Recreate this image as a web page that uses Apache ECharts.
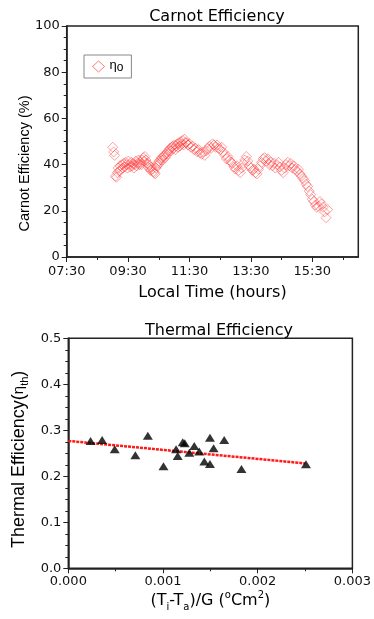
<!DOCTYPE html>
<html>
<head>
<meta charset="utf-8">
<script src="https://cdn.jsdelivr.net/npm/echarts@6/dist/echarts.min.js"></script>
<style>
html,body{margin:0;padding:0;background:#fff;}
#c{width:374px;height:619px;}
</style>
</head>
<body>
<div id="c"></div>
<script>
// ---- Carnot efficiency (top chart) ----
const timeHours = [
 9.00,9.03,9.06,9.09,9.12,9.15,9.18,9.21,9.24,9.27,9.30,9.33,9.36,9.39,9.42,9.45,9.48,9.51,9.54,9.57,
 9.60,9.63,9.66,9.69,9.72,9.75,9.78,9.81,9.84,9.87,9.90,9.93,9.96,9.99,10.02,10.05,10.08,10.11,10.14,10.17,
 10.20,10.23,10.26,10.29,10.32,10.35,10.38,10.41,10.44,10.47,10.50,10.53,10.56,10.59,10.62,10.65,10.68,10.71,10.74,10.77,
 10.80,10.83,10.86,10.89,10.92,10.95,10.98,11.01,11.04,11.07,11.10,11.13,11.16,11.19,11.22,11.25,11.28,11.31,11.34,11.37,
 11.40,11.45,11.50,11.55,11.60,11.65,11.70,11.75,11.80,11.85,11.90,11.95,12.00,12.05,12.10,12.15,12.20,12.25,12.30,12.35,
 12.40,12.45,12.50,12.55,12.60,12.65,12.70,12.75,12.80,12.85,12.90,12.95,13.00,13.05,13.10,13.15,13.20,13.25,13.30,13.35,
 13.40,13.45,13.50,13.55,13.60,13.65,13.70,13.75,13.80,13.85,13.90,13.95,14.00,14.05,14.10,14.15,14.20,14.25,14.30,14.35,
 14.40,14.45,14.50,14.55,14.60,14.65,14.70,14.75,14.80,14.85,14.90,14.95,15.00,15.05,15.10,15.15,15.20,15.25,15.30,15.35,
 15.40,15.45,15.50,15.55,15.60,15.65,15.70,15.75,15.80,15.85,15.90,15.95,16.00
];
const carnotEff = [
 47.5,45.5,44.0,35.0,34.5,36.5,38.5,37.0,39.5,38.0,40.0,38.5,40.5,39.0,41.0,40.0,38.5,41.5,40.0,39.0,
 41.0,39.5,40.5,38.5,40.0,41.5,39.5,40.5,42.0,40.0,41.0,40.0,42.0,43.0,41.5,43.5,42.0,40.5,39.0,40.0,
 38.5,37.5,39.0,38.0,37.0,36.5,36.0,38.5,39.5,40.5,41.5,40.5,42.0,43.0,42.0,43.5,44.0,43.0,44.5,45.5,
 44.5,46.0,47.0,46.0,47.5,48.0,47.0,48.5,46.5,48.0,49.0,47.5,49.5,48.0,50.0,49.0,50.5,48.5,51.0,49.5,
 49.5,48.5,49.0,47.5,48.0,46.5,47.0,45.5,46.5,45.0,44.5,45.5,44.0,46.0,47.0,48.0,47.0,49.0,48.5,47.5,
 48.5,47.0,46.5,47.5,45.5,44.0,42.5,43.5,42.0,41.0,40.5,39.0,38.0,39.5,37.5,36.5,38.5,40.5,42.0,43.5,
 41.5,39.5,38.5,37.5,38.0,36.5,36.0,38.0,39.5,41.0,42.5,43.0,41.5,42.5,40.0,41.0,39.5,40.5,38.5,40.0,
 41.0,39.0,37.5,36.5,38.5,40.0,41.0,39.5,40.5,38.5,39.5,38.0,37.0,38.0,36.0,35.0,34.0,33.0,31.5,30.5,
 28.5,27.0,25.0,24.0,22.5,21.5,22.0,24.0,23.0,21.5,19.5,17.0,20.5
];
const timeMajorTicks = [7.5, 9.5, 11.5, 13.5, 15.5];
const timeMinorTicks = [8.5, 10.5, 12.5, 14.5, 16.5];

// ---- Thermal efficiency (bottom chart) ----
const thermX = [0.000235,0.000357,0.00049,0.000708,0.00084,0.001005,0.001138,0.001155,0.001208,0.00123,
                0.001278,0.00133,0.001383,0.001436,0.001496,0.001496,0.001534,0.001646,0.001828,0.00251];
const thermY = [0.277,0.279,0.259,0.246,0.288,0.222,0.259,0.244,0.274,0.272,
                0.251,0.266,0.254,0.232,0.284,0.227,0.261,0.279,0.216,0.226];
const fitX = [0, 0.0025];
const fitY = [0.277, 0.228];

const FONT = 'DejaVu Sans';
const FONT2 = 'Liberation Sans';
const AX = '#222';

function pad(n){ return (n < 10 ? '0' : '') + n; }
function hhmm(v){ const h = Math.floor(v + 1e-9); const m = Math.round((v - h) * 60); return pad(h) + ':' + pad(m); }

const chart = echarts.init(document.getElementById('c'), null, {renderer: 'canvas'});
chart.setOption({
  backgroundColor: '#fff',
  animation: false,
  title: [
    {text: 'Carnot Efficiency', left: 217, top: 9, textAlign: 'center', padding: 0,
     textStyle: {fontFamily: FONT, fontSize: 16, fontWeight: 'normal', color: '#000'}},
    {text: 'Thermal Efficiency', left: 219, top: 323, textAlign: 'center', padding: 0,
     textStyle: {fontFamily: FONT, fontSize: 16, fontWeight: 'normal', color: '#000'}}
  ],
  legend: {
    left: 84, top: 55, padding: [4, 8, 4, 8], orient: 'vertical',
    borderColor: '#888', borderWidth: 1, backgroundColor: '#fff',
    itemWidth: 12, itemHeight: 11,
    data: [{name: 'eta', icon: 'diamond'}],
    itemStyle: {color: 'transparent', borderColor: 'rgba(255,50,50,0.8)', borderWidth: 1},
    formatter: function(){ return '{a|η}{b|o}'; },
    textStyle: {
      rich: {
        a: {fontFamily: FONT2, fontSize: 13, color: '#000', lineHeight: 15, verticalAlign: 'top'},
        b: {fontFamily: FONT2, fontSize: 12, color: '#000', lineHeight: 10, verticalAlign: 'bottom'}
      }
    }
  },
  grid: [
    {left: 66.7, top: 26, width: 291.6, height: 231, show: true, borderColor: AX, borderWidth: 1.5, backgroundColor: 'transparent'},
    {left: 68.3, top: 338.3, width: 285.7, height: 230, show: true, borderColor: AX, borderWidth: 1.5, backgroundColor: 'transparent'}
  ],
  xAxis: [
    {gridIndex: 0, type: 'value', min: 7.5, max: 17,
     axisLine: {show: true, lineStyle: {color: AX, width: 1.5}},
     axisTick: {show: true, length: 3, customValues: timeMinorTicks, lineStyle: {color: AX}},
     axisLabel: {show: false},
     splitLine: {show: false},
     name: 'Local Time (hours)', nameLocation: 'middle', nameGap: 28, nameMoveOverlap: false,
     nameTextStyle: {fontFamily: FONT, fontSize: 16, color: '#000'}},
    {gridIndex: 0, type: 'value', min: 7.5, max: 17, position: 'bottom',
     axisLine: {show: false},
     axisTick: {show: true, length: 5, customValues: timeMajorTicks, lineStyle: {color: AX}},
     axisLabel: {show: true, customValues: timeMajorTicks, formatter: hhmm, margin: 8,
                 fontFamily: FONT, fontSize: 13, color: '#111'},
     splitLine: {show: false}},
    {gridIndex: 1, type: 'value', min: 0, max: 0.003, interval: 0.001,
     axisLine: {show: true, lineStyle: {color: AX, width: 1.5}},
     axisTick: {show: true, length: 5, lineStyle: {color: AX}},
     minorTick: {show: true, splitNumber: 2, length: 3, lineStyle: {color: AX}},
     axisLabel: {formatter: function(v){ return v.toFixed(3); }, margin: 7,
                 fontFamily: FONT, fontSize: 13, color: '#111'},
     splitLine: {show: false},
     name: '(T{s|i}-T{s|a})/G ({p|o}Cm{p|2})', nameLocation: 'middle', nameGap: 22, nameMoveOverlap: false,
     nameTextStyle: {fontFamily: FONT, fontSize: 16, color: '#000', lineHeight: 22,
       rich: {
         s: {fontFamily: FONT, fontSize: 10, color: '#000', lineHeight: 10, verticalAlign: 'bottom'},
         p: {fontFamily: FONT, fontSize: 10, color: '#000', lineHeight: 10, verticalAlign: 'top'}
       }}}
  ],
  yAxis: [
    {gridIndex: 0, type: 'value', min: 0, max: 100, interval: 20,
     axisLine: {show: true, lineStyle: {color: AX, width: 1.5}},
     axisTick: {show: true, length: 5, lineStyle: {color: AX}},
     minorTick: {show: true, splitNumber: 4, length: 3, lineStyle: {color: AX}},
     axisLabel: {margin: 7, fontFamily: FONT, fontSize: 13, color: '#111'},
     splitLine: {show: false},
     name: 'Carnot Efficiency (%)', nameLocation: 'middle', nameGap: 34, nameMoveOverlap: false,
     nameTextStyle: {fontFamily: FONT2, fontSize: 14.5, color: '#000', padding: [0, 44, 0, 0]}},
    {gridIndex: 1, type: 'value', min: 0, max: 0.5, interval: 0.1,
     axisLine: {show: true, lineStyle: {color: AX, width: 1.5}},
     axisTick: {show: true, length: 5, lineStyle: {color: AX}},
     minorTick: {show: true, splitNumber: 4, length: 3, lineStyle: {color: AX}},
     axisLabel: {margin: 7, formatter: function(v){ return v.toFixed(1); },
                 fontFamily: FONT, fontSize: 13, color: '#111'},
     splitLine: {show: false},
     name: 'Thermal Efficiency({g|η}{s|th})', nameLocation: 'middle', nameGap: 38, nameMoveOverlap: false,
     nameTextStyle: {fontFamily: FONT2, fontSize: 18, color: '#000', lineHeight: 22, padding: [0, 12, 0, 0],
       rich: {
         g: {fontFamily: FONT2, fontSize: 15, color: '#000', lineHeight: 22},
         s: {fontFamily: FONT2, fontSize: 11, color: '#000', lineHeight: 11, verticalAlign: 'bottom'}
       }}}
  ],
  series: [
    {name: 'eta', type: 'scatter', xAxisIndex: 0, yAxisIndex: 0,
     symbol: 'diamond', symbolSize: [10, 10],
     itemStyle: {color: 'transparent', borderColor: 'rgba(255,40,40,0.55)', borderWidth: 1},
     data: timeHours.map(function(t, i){ return [t, carnotEff[i]]; })},
    {name: 'fit', type: 'line', xAxisIndex: 2, yAxisIndex: 1,
     symbol: 'none', z: 3,
     lineStyle: {color: '#ff1a1a', width: 2.5, type: [3, 1]},
     data: fitX.map(function(x, i){ return [x, fitY[i]]; })},
    {name: 'therm', type: 'scatter', xAxisIndex: 2, yAxisIndex: 1,
     symbol: 'triangle', symbolSize: [10, 8], z: 4,
     itemStyle: {color: '#000'},
     data: thermX.map(function(x, i){ return [x, thermY[i]]; })}
  ]
});
</script>
</body>
</html>
